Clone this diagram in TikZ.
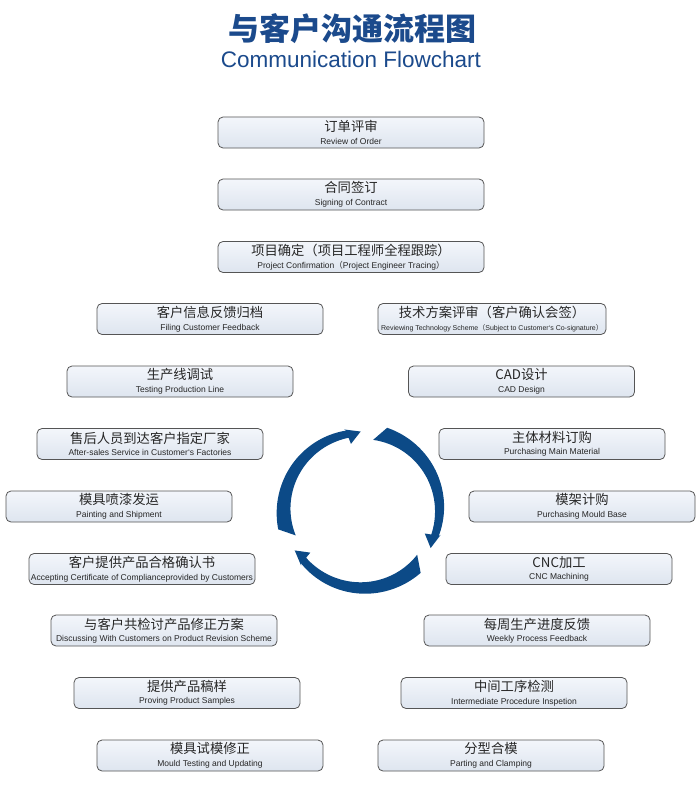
\documentclass[tikz,border=0pt]{standalone}
\usepackage{fontspec}
\setmainfont{Liberation Sans}
\newfontfamily\cjk{Noto Sans CJK SC}
\definecolor{titleblue}{RGB}{27,74,140}
\definecolor{arrowblue}{RGB}{12,74,135}
\definecolor{boxline}{RGB}{85,85,85}
\definecolor{boxtop}{RGB}{243,246,251}
\definecolor{boxbot}{RGB}{222,229,239}
\newcommand{\zh}[1]{{\cjk\fontsize{13.3}{13}\selectfont #1}}
\newcommand{\fp}[1]{{\cjk #1}}
\tikzset{
  stepbox/.style={draw=boxline, line width=0.8pt, rounded corners=5pt,
    top color=boxtop, bottom color=boxbot, minimum width=226pt,
    minimum height=31pt, inner sep=0pt, align=center, text=black!85,
    font=\fontsize{8.5}{12.5}\selectfont},
  widebox/.style={stepbox, minimum width=266pt},
}
\begin{document}
\begin{tikzpicture}[x=1pt,y=1pt]
\fill[white] (0,0) rectangle (698,-789);
\useasboundingbox (0,0) rectangle (698,-789);
% title
\node[text=titleblue, font=\cjk\bfseries\fontsize{31}{32}\selectfont] (title) at (352,-29) {与客户沟通流程图};
\node[text=titleblue, font=\fontsize{22.5}{23}\selectfont] (subtitle) at (351,-59) {Communication Flowchart};
% top boxes
\node[widebox] (n1) at (351,-132.5) {\zh{订单评审}\\Review of Order};
\node[widebox] (n2) at (351,-194.5) {\zh{合同签订}\\Signing of Contract};
\node[widebox] (n3) at (351,-257) {\zh{项目确定\fp{（}项目工程师全程跟踪\fp{）}}\\Project Confirmation\fp{（}Project Engineer Tracing\fp{）}};
% left column
\node[stepbox] (l1) at (210,-319) {\zh{客户信息反馈归档}\\Filing Customer Feedback};
\node[stepbox] (l2) at (180,-381.5) {\zh{生产线调试}\\Testing Production Line};
\node[stepbox] (l3) at (150,-444) {\zh{售后人员到达客户指定厂家}\\After-sales Service in Customer`s Factories};
\node[stepbox] (l4) at (119,-506.5) {\zh{模具喷漆发运}\\Painting and Shipment};
\node[stepbox] (l5) at (142,-569) {\zh{客户提供产品合格确认书}\\Accepting Certificate of Complianceprovided by Customers};
\node[stepbox] (l6) at (164,-630.5) {\zh{与客户共检讨产品修正方案}\\Discussing With Customers on Product Revision Scheme};
\node[stepbox] (l7) at (187,-693) {\zh{提供产品稿样}\\Proving Product Samples};
\node[stepbox] (l8) at (210,-755.5) {\zh{模具试模修正}\\Mould Testing and Updating};
% right column
\node[stepbox, minimum width=228pt] (r1) at (492,-319) {\zh{技术方案评审\fp{（}客户确认会签\fp{）}}\\{\fontsize{7}{8}\selectfont Reviewing Technology Scheme\fp{（}Subject to Customer`s Co-signature\fp{）}}};
\node[stepbox] (r2) at (521.5,-381.5) {\zh{CAD设计}\\CAD Design};
\node[stepbox] (r3) at (552,-444) {\zh{主体材料订购}\\Purchasing Main Material};
\node[stepbox] (r4) at (582,-506.5) {\zh{模架计购}\\Purchasing Mould Base};
\node[stepbox] (r5) at (559,-569) {\zh{CNC加工}\\CNC Machining};
\node[stepbox] (r6) at (537,-630.5) {\zh{每周生产进度反馈}\\Weekly Process Feedback};
\node[stepbox] (r7) at (514,-693) {\zh{中间工序检测}\\Intermediate Procedure Inspetion};
\node[stepbox] (r8) at (491,-755.5) {\zh{分型合模}\\Parting and Clamping};
% cycle arrows
\begin{scope}[shift={(362,-510)}]
\foreach \a in {197,77,-43}{
  \fill[arrowblue] plot[domain=0:1,samples=40] ({\a-4-92*\x}:{86-5*\x})
    -- ({\a-94.5}:82.5) -- ({\a-106}:78.5) -- ({\a-97.5}:67) -- ({\a-96.5}:73.5)
    -- plot[domain=0:1,samples=40] ({\a-96.5+100.5*\x}:{73.5-2.5*\x}) -- cycle;
}
\end{scope}
\end{tikzpicture}
\end{document}
